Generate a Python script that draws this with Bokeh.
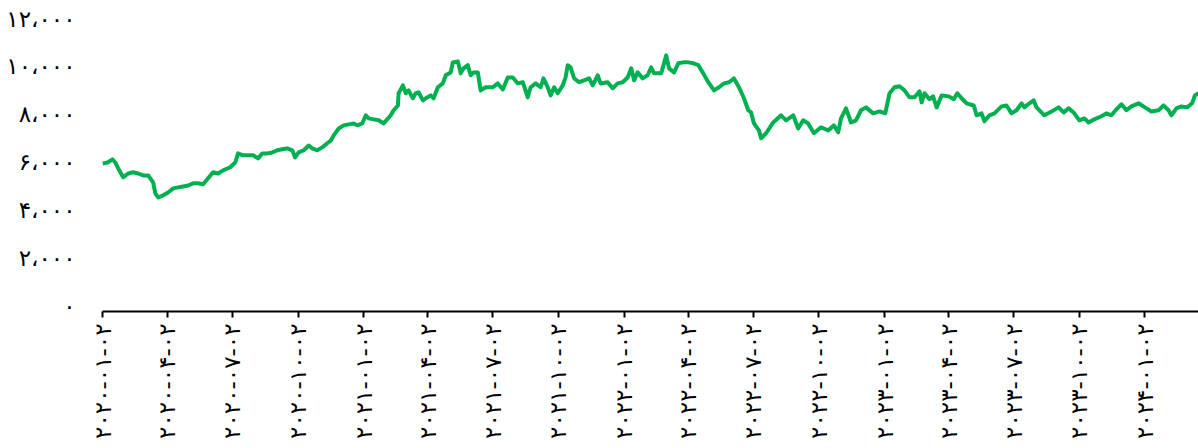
import pandas as pd
from bokeh.plotting import figure
from bokeh.models import Range1d, FixedTicker, CustomJSTickFormatter
from bokeh.embed import file_html
from bokeh.resources import INLINE
import math

dates = [
    "2020-01-02", "2020-01-09", "2020-01-16", "2020-01-20", "2020-01-24", "2020-01-31",
    "2020-02-07", "2020-02-14", "2020-02-21", "2020-02-28", "2020-03-06", "2020-03-13",
    "2020-03-16", "2020-03-20", "2020-03-27", "2020-04-03", "2020-04-10", "2020-04-17",
    "2020-04-24", "2020-05-01", "2020-05-08", "2020-05-15", "2020-05-22", "2020-05-29",
    "2020-06-05", "2020-06-12", "2020-06-19", "2020-06-29", "2020-07-06", "2020-07-10",
    "2020-07-17", "2020-07-24", "2020-07-31", "2020-08-07", "2020-08-13", "2020-08-20",
    "2020-08-27", "2020-09-03", "2020-09-10", "2020-09-17", "2020-09-24", "2020-09-28",
    "2020-10-03", "2020-10-10", "2020-10-17", "2020-10-22", "2020-10-29", "2020-11-05",
    "2020-11-12", "2020-11-17", "2020-11-21", "2020-11-28", "2020-12-05", "2020-12-12",
    "2020-12-19", "2020-12-24", "2020-12-31", "2021-01-05", "2021-01-09", "2021-01-16",
    "2021-01-23", "2021-01-30", "2021-02-09", "2021-02-13", "2021-02-19", "2021-02-20",
    "2021-02-26", "2021-03-02", "2021-03-06", "2021-03-12", "2021-03-16", "2021-03-20",
    "2021-03-26", "2021-03-30", "2021-04-06", "2021-04-10", "2021-04-16", "2021-04-23",
    "2021-04-27", "2021-05-04", "2021-05-07", "2021-05-14", "2021-05-18", "2021-05-22",
    "2021-05-28", "2021-06-01", "2021-06-05", "2021-06-11", "2021-06-15", "2021-06-22",
    "2021-07-02", "2021-07-09", "2021-07-16", "2021-07-23", "2021-07-30", "2021-08-06",
    "2021-08-13", "2021-08-20", "2021-08-24", "2021-08-31", "2021-09-07", "2021-09-11",
    "2021-09-17", "2021-09-21", "2021-09-26", "2021-10-01", "2021-10-08", "2021-10-12",
    "2021-10-15", "2021-10-19", "2021-10-24", "2021-10-31", "2021-11-07", "2021-11-14",
    "2021-11-19", "2021-11-26", "2021-11-30", "2021-12-10", "2021-12-17", "2021-12-24",
    "2021-12-31", "2022-01-07", "2022-01-12", "2022-01-16", "2022-01-21", "2022-01-28",
    "2022-02-04", "2022-02-09", "2022-02-13", "2022-02-23", "2022-03-02", "2022-03-06",
    "2022-03-13", "2022-03-19", "2022-03-26", "2022-04-02", "2022-04-09", "2022-04-16",
    "2022-04-23", "2022-04-30", "2022-05-08", "2022-05-15", "2022-05-22", "2022-05-29",
    "2022-06-05", "2022-06-12", "2022-06-19", "2022-06-25", "2022-06-29", "2022-07-03",
    "2022-07-10", "2022-07-13", "2022-07-20", "2022-07-30", "2022-08-10", "2022-08-17",
    "2022-08-27", "2022-09-03", "2022-09-10", "2022-09-17", "2022-09-25", "2022-10-05",
    "2022-10-15", "2022-10-23", "2022-10-29", "2022-11-02", "2022-11-09", "2022-11-16",
    "2022-11-23", "2022-11-30", "2022-12-07", "2022-12-17", "2022-12-26", "2023-01-03",
    "2023-01-09", "2023-01-16", "2023-01-23", "2023-01-30", "2023-02-06", "2023-02-13",
    "2023-02-20", "2023-02-23", "2023-02-27", "2023-03-06", "2023-03-11", "2023-03-16",
    "2023-03-23", "2023-04-02", "2023-04-09", "2023-04-14", "2023-04-20", "2023-04-27",
    "2023-05-07", "2023-05-11", "2023-05-18", "2023-05-22", "2023-05-29", "2023-06-05",
    "2023-06-15", "2023-06-22", "2023-06-29", "2023-07-06", "2023-07-13", "2023-07-17",
    "2023-07-24", "2023-07-30", "2023-08-03", "2023-08-14", "2023-08-24", "2023-09-03",
    "2023-09-10", "2023-09-17", "2023-09-25", "2023-10-02", "2023-10-09", "2023-10-15",
    "2023-10-23", "2023-11-02", "2023-11-09", "2023-11-16", "2023-11-23", "2023-11-30",
    "2023-12-07", "2023-12-14", "2023-12-24", "2024-01-02", "2024-01-11", "2024-01-21",
    "2024-01-28", "2024-02-04", "2024-02-08", "2024-02-15", "2024-02-22", "2024-03-01",
    "2024-03-08", "2024-03-12", "2024-03-17",
]

values = [
    5950, 5990, 6120, 5990, 5740, 5370,
    5530, 5580, 5530, 5450, 5450, 5160,
    4700, 4530, 4620, 4740, 4910, 4950,
    4990, 5030, 5120, 5120, 5080, 5330,
    5580, 5530, 5660, 5790, 5990, 6370,
    6290, 6290, 6290, 6160, 6370, 6370,
    6410, 6500, 6540, 6580, 6500, 6200,
    6410, 6500, 6700, 6580, 6500, 6620,
    6790, 6910, 7120, 7410, 7540, 7580,
    7620, 7540, 7620, 7960, 7830, 7790,
    7750, 7620, 7960, 8170, 8370, 8880,
    9210, 8880, 9000, 8670, 8880, 8920,
    8580, 8670, 8790, 8670, 9130, 9290,
    9630, 9750, 10170, 10210, 9710, 9920,
    10050, 9630, 9750, 9750, 9000, 9130,
    9130, 9290, 9040, 9540, 9540, 9290,
    9340, 8710, 9130, 9290, 9130, 9500,
    9130, 8790, 9130, 8880, 9210, 9540,
    10050, 9960, 9500, 9340, 9420, 9500,
    9210, 9630, 9290, 9340, 9090, 9290,
    9340, 9540, 9920, 9420, 9750, 9500,
    9630, 9960, 9710, 9710, 10460, 9920,
    9750, 10130, 10170, 10170, 10130, 10050,
    9710, 9340, 9000, 9130, 9290, 9340,
    9500, 9130, 8670, 8170, 8080, 7620,
    7330, 7000, 7210, 7660, 7960, 7750,
    7960, 7410, 7750, 7620, 7210, 7460,
    7330, 7540, 7250, 7830, 8250, 7660,
    7750, 8170, 8290, 8040, 8120, 8040,
    8880, 9130, 9170, 9000, 8710, 8710,
    8960, 8500, 8880, 8630, 8750, 8290,
    8790, 8750, 8630, 8880, 8670, 8460,
    8370, 7960, 8040, 7710, 7960, 8040,
    8330, 8370, 8040, 8170, 8460, 8290,
    8460, 8580, 8290, 7960, 8120, 8290,
    8080, 8250, 8040, 7750, 7830, 7660,
    7790, 7920, 8040, 7960, 8210, 8420,
    8170, 8330, 8460, 8290, 8120, 8170,
    8370, 8170, 7960, 8250, 8330, 8290,
    8460, 8790, 8880,
]

x_tick_dates = [
    "2020-01-02", "2020-04-02", "2020-07-02", "2020-10-02",
    "2021-01-02", "2021-04-02", "2021-07-02", "2021-10-02",
    "2022-01-02", "2022-04-02", "2022-07-02", "2022-10-02",
    "2023-01-02", "2023-04-02", "2023-07-02", "2023-10-02",
    "2024-01-02",
]
y_ticks = [0, 2000, 4000, 6000, 8000, 10000, 12000]

dt = pd.to_datetime(dates)
tick_ms = [pd.Timestamp(t).value // 10**6 for t in x_tick_dates]

p = figure(width=1198, height=448, x_axis_type="datetime",
           output_backend="svg", toolbar_location=None,
           x_range=Range1d(dt[0].to_pydatetime(), dt[-1].to_pydatetime()),
           y_range=Range1d(-230, 12000),
           min_border_left=102, min_border_right=0,
           min_border_top=18, min_border_bottom=137)
p.outline_line_color = None
p.grid.visible = False

p.line(dt, values, line_color="#00b050", line_width=4, line_join="round")

FA_JS = "const fa='۰۱۲۳۴۵۶۷۸۹';"
p.xaxis.ticker = FixedTicker(ticks=tick_ms)
p.xaxis.formatter = CustomJSTickFormatter(code=FA_JS + """
const s = new Date(tick).toISOString().slice(0, 10);
return s.replace(/[0-9]/g, c => fa[+c]);
""")
p.xaxis.major_label_orientation = math.pi / 2
p.xaxis.axis_line_color = "black"
p.xaxis.axis_line_width = 2
p.xaxis.major_tick_line_width = 2
p.xaxis.major_tick_out = 6
p.xaxis.major_tick_in = 0
p.xaxis.minor_tick_line_color = None
p.xaxis.major_label_standoff = 6

p.yaxis.ticker = FixedTicker(ticks=y_ticks)
p.yaxis.formatter = CustomJSTickFormatter(code=FA_JS + """
const s = Math.round(tick).toString().replace(/\\B(?=(\\d{3})+(?!\\d))/g, '\u060c');
return s.replace(/[0-9]/g, c => fa[+c]);
""")
p.yaxis.axis_line_color = None
p.yaxis.major_tick_line_color = None
p.yaxis.minor_tick_line_color = None
p.yaxis.major_label_standoff = 21

for ax in (p.xaxis[0], p.yaxis[0]):
    ax.major_label_text_font = "DejaVu Sans"
    ax.major_label_text_font_size = "23px"
    ax.major_label_text_color = "black"

open("out.html", "w").write(file_html(p, INLINE))
